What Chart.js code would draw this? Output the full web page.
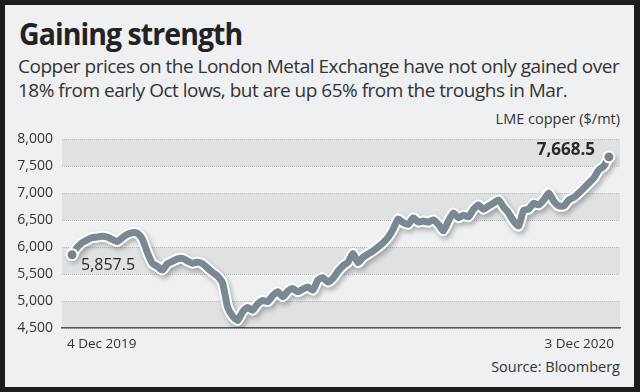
<!DOCTYPE html>
<html>
<head>
<meta charset="utf-8">
<script src="https://cdn.jsdelivr.net/npm/chart.js@4/dist/chart.umd.min.js"></script>
<style>
  html, body { margin: 0; padding: 0; }
  body { width: 640px; height: 392px; background: #1c1c1c; position: relative; overflow: hidden; font-family: 'Open Sans', sans-serif; }
  .card { position: absolute; left: 5px; top: 5px; width: 629px; height: 382px; background: #eef0f2; }
  .title { position: absolute; left: 19px; top: 13px; font-size: 30px; font-weight: 700; color: #222; letter-spacing: -1px; white-space: nowrap; transform-origin: left top; transform: scaleX(0.95); }
  .sub { position: absolute; left: 18px; top: 54px; font-size: 19px; line-height: 24px; color: #333; white-space: nowrap; letter-spacing: -0.5px; transform-origin: left top; transform: scaleX(1.0); }
  .unit { position: absolute; right: 20px; top: 109px; font-size: 14.5px; color: #333; white-space: nowrap; }
  .source { position: absolute; right: 20px; top: 357px; font-size: 14.5px; color: #333; white-space: nowrap; }
  canvas { position: absolute; left: 0; top: 0; }
</style>
</head>
<body>
<div class="card"></div>
<div class="title">Gaining strength</div>
<div class="sub">Copper prices on the London Metal Exchange have not only gained over<br>18% from early Oct lows, but are up 65% from the troughs in Mar.</div>
<div class="unit">LME copper ($/mt)</div>
<div class="source">Source: Bloomberg</div>
<canvas id="chart" width="640" height="392"></canvas>
<script>
// LME copper, 4 Dec 2019 .. 3 Dec 2020
const prices = [
  5857.5, 5990, 6080, 6130, 6175, 6185, 6200, 6185, 6140, 6100,
  6170, 6235, 6265, 6255, 6150, 5900, 5700, 5640, 5575, 5690,
  5735, 5780, 5790, 5740, 5700, 5720, 5690, 5611, 5530, 5460,
  5330, 4890, 4720, 4640, 4800, 4880, 4830, 4950, 5010, 4990,
  5100, 5170, 5080, 5180, 5230, 5170, 5220, 5260, 5200, 5390,
  5430, 5350, 5420, 5550, 5650, 5720, 5880, 5710, 5810, 5870,
  5930, 6000, 6080, 6180, 6330, 6520, 6450, 6420, 6540, 6463,
  6480, 6460, 6500, 6420, 6300, 6480, 6630, 6540, 6590, 6560,
  6700, 6780, 6700, 6760, 6815, 6870, 6740, 6630, 6480, 6390,
  6680, 6700, 6810, 6780, 6870, 7000, 6850, 6760, 6760, 6870,
  6920, 7000, 7090, 7185, 7280, 7430, 7500, 7668.5
];
const dateLabels = ['4 Dec 2019', '3 Dec 2020'];
const yMin = 4500, yMax = 8000, yStep = 500;

const points = prices.map((v, i) => ({ x: i, y: v }));
const last = prices.length - 1;
const fmt = v => v.toLocaleString('en-US', { minimumFractionDigits: 1 });

const bands = {
  id: 'bands',
  beforeDraw(chart) {
    const { ctx, chartArea: a, scales: { y } } = chart;
    ctx.save();
    ctx.fillStyle = '#dfe1e3';
    const t = y.ticks;
    for (let i = 0; i < t.length - 1; i += 2) {
      const y0 = y.getPixelForValue(t[i].value), y1 = y.getPixelForValue(t[i + 1].value);
      ctx.fillRect(a.left, y1, a.right - a.left, y0 - y1);
    }
    ctx.restore();
  }
};

const shadow = {
  id: 'shadow',
  beforeDatasetDraw(chart, args) {
    if (args.index !== 0) return;
    const ctx = chart.ctx;
    ctx.save();
    ctx.shadowColor = 'rgba(0,0,0,0.28)';
    ctx.shadowBlur = 5;
    ctx.shadowOffsetX = 2;
    ctx.shadowOffsetY = 3;
  },
  afterDatasetDraw(chart, args) {
    if (args.index !== 0) return;
    chart.ctx.restore();
  }
};

const endLabels = {
  id: 'endLabels',
  afterDatasetsDraw(chart) {
    const { ctx } = chart;
    const pts = chart.getDatasetMeta(1).data;
    const p0 = pts[0], p1 = pts[last];
    ctx.save();
    ctx.fillStyle = '#2a2a2a';
    ctx.textBaseline = 'middle';
    ctx.font = '16px "Open Sans"';
    ctx.textAlign = 'left';
    ctx.fillText(fmt(prices[0]), p0.x + 9, p0.y + 11);
    ctx.font = 'bold 17px "Open Sans"';
    ctx.textAlign = 'right';
    ctx.fillText(fmt(prices[last]), p1.x - 14, p1.y - 7);
    ctx.restore();
  }
};

new Chart(document.getElementById('chart'), {
  type: 'line',
  data: {
    datasets: [
      {
        data: points, order: 2,
        borderColor: '#ffffff', borderWidth: 11,
        pointRadius: 0, tension: 0.2, borderJoinStyle: 'round', borderCapStyle: 'round'
      },
      {
        data: points, order: 1,
        borderColor: '#7a8891', borderWidth: 7,
        tension: 0.2, borderJoinStyle: 'round', borderCapStyle: 'round',
        pointRadius: c => (c.dataIndex === 0 || c.dataIndex === last) ? 5.5 : 0,
        pointBackgroundColor: '#75838c', pointBorderColor: '#ffffff', pointBorderWidth: 2
      }
    ]
  },
  options: {
    responsive: false,
    animation: false,
    layout: { padding: { left: 0, right: 20, top: 139, bottom: 0 } },
    plugins: { legend: { display: false }, tooltip: { enabled: false } },
    scales: {
      x: {
        type: 'linear', min: -2, max: 109.2,
        afterFit: s => { s.height = 64; },
        afterBuildTicks: s => { s.ticks = [{ value: -1 }, { value: 108 }]; },
        grid: { display: false },
        border: { display: true, color: '#555', width: 1.5 },
        ticks: {
          align: 'inner', padding: 0, maxRotation: 0, autoSkip: false,
          color: '#333', font: { family: 'Open Sans', size: 13.5 },
          callback: v => v < 0 ? dateLabels[0] : dateLabels[1]
        }
      },
      y: {
        min: yMin, max: yMax,
        afterFit: s => { s.width = 62; },
        grid: { color: '#b9bbbd', lineWidth: 1, drawTicks: false },
        border: { display: false, dash: [1, 1] },
        ticks: {
          stepSize: yStep, padding: 9, color: '#333',
          font: { family: 'Open Sans', size: 14 },
          callback: v => v.toLocaleString('en-US')
        }
      }
    }
  },
  plugins: [bands, shadow, endLabels]
});
</script>
</body>
</html>
